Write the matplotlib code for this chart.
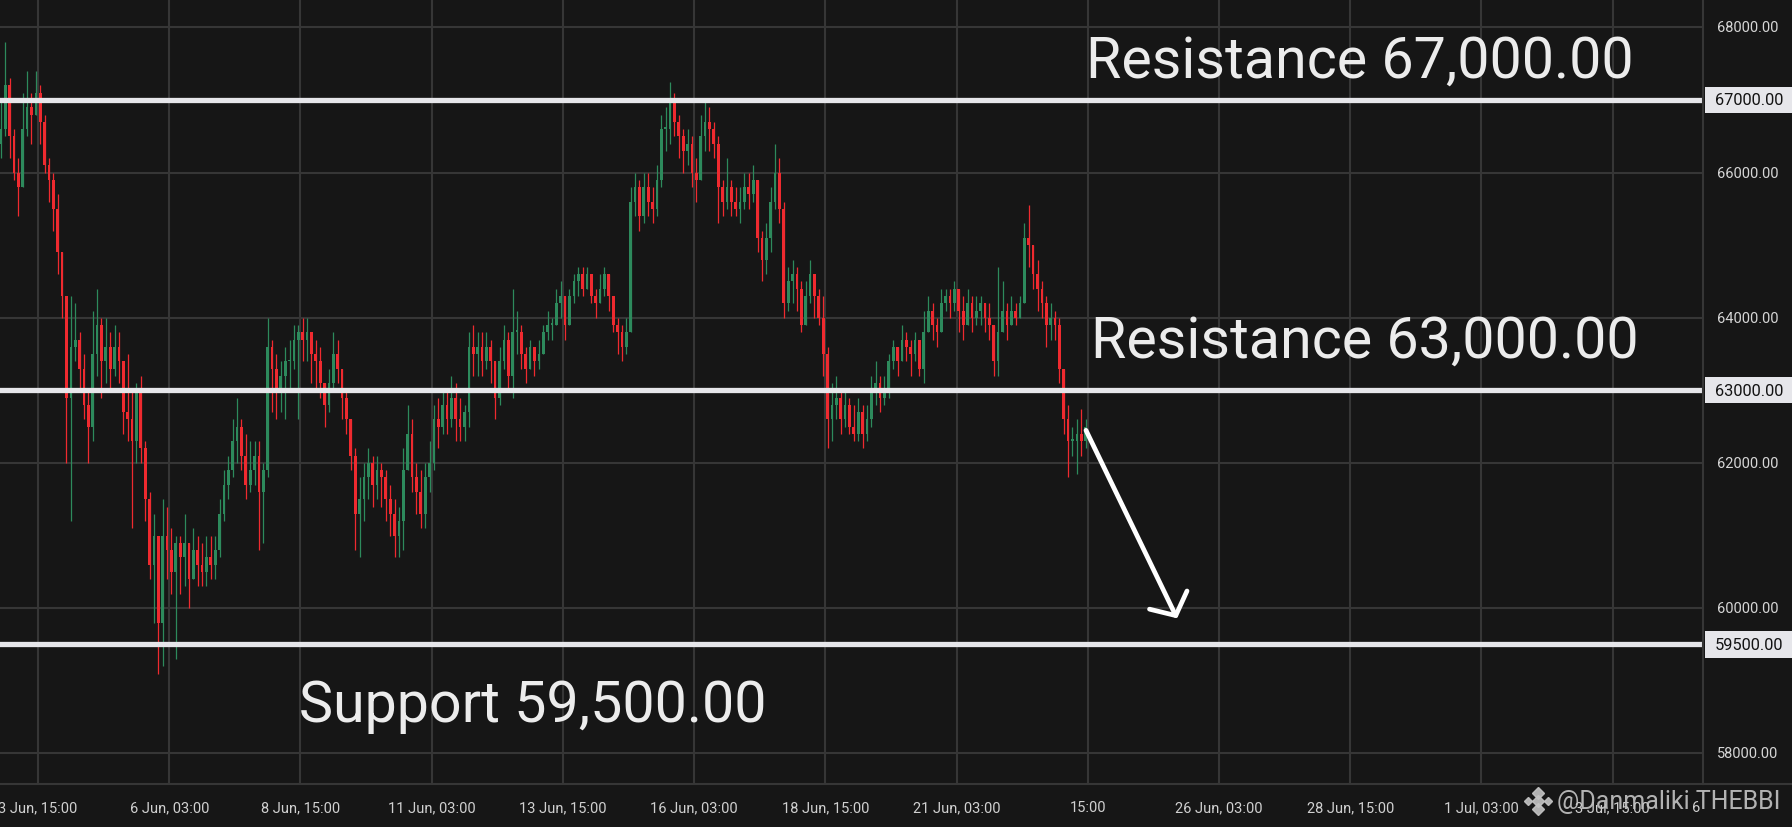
import numpy as np
import pandas as pd
import matplotlib
matplotlib.use("Agg")
import matplotlib.pyplot as plt
import matplotlib.dates as mdates
from matplotlib.patches import Rectangle
from matplotlib.lines import Line2D

plt.rcParams['font.family'] = ['Roboto', 'DejaVu Sans']

# ==========================
# data (2h candles, prices in thousands USD)
# ==========================
first_candle = "2024-06-02 22:00"
open0 = 66.4

close = [
    66.6, 67.2, 66.5, 66.0, 65.8, 66.6, 66.9, 66.8, 67.1, 66.7,
    66.1, 65.9, 65.5, 64.9, 64.3, 62.9, 63.6, 63.7, 63.3, 62.8,
    62.5, 63.5, 63.9, 63.4, 63.6, 63.3, 63.6, 63.4, 62.7, 62.6,
    62.3, 63.0, 62.2, 61.5, 60.6, 61.0, 59.8, 61.0, 60.8, 60.5,
    60.9, 60.7, 60.9, 60.4, 60.8, 60.6, 60.5, 60.7, 60.6, 60.8,
    61.3, 61.7, 61.9, 62.3, 62.5, 62.1, 61.7, 61.9, 62.1, 61.6,
    61.9, 63.6, 63.3, 63.0, 63.2, 63.4, 63.4, 63.7, 63.8, 63.7,
    63.8, 63.5, 63.4, 63.1, 62.8, 63.1, 63.5, 63.3, 62.9, 62.6,
    62.1, 61.3, 61.5, 61.8, 62.0, 61.7, 61.9, 61.8, 61.5, 61.3,
    61.0, 61.2, 61.9, 62.4, 61.8, 61.6, 61.3, 61.8, 62.0, 62.6,
    62.5, 62.8, 62.6, 62.9, 62.6, 62.5, 62.7, 63.6, 63.5, 63.6,
    63.4, 63.6, 63.4, 62.9, 63.4, 63.7, 63.2, 63.8, 63.8, 63.5,
    63.3, 63.6, 63.4, 63.5, 63.8, 63.9, 63.9, 64.2, 64.3, 63.9,
    64.3, 64.5, 64.6, 64.4, 64.6, 64.3, 64.2, 64.4, 64.6, 64.3,
    63.9, 63.8, 63.6, 63.8, 65.6, 65.8, 65.4, 65.8, 65.6, 65.5,
    65.9, 66.6, 66.6, 67.0, 66.7, 66.5, 66.3, 66.4, 66.0, 65.9,
    66.5, 66.7, 66.6, 66.4, 65.8, 65.6, 65.8, 65.6, 65.5, 65.6,
    65.8, 65.7, 65.9, 65.1, 64.8, 65.1, 65.6, 66.0, 65.5, 64.2,
    64.5, 64.6, 64.4, 63.9, 64.3, 64.6, 64.3, 64.0, 63.5, 62.6,
    62.8, 62.9, 62.6, 62.8, 62.5, 62.4, 62.7, 62.4, 62.6, 63.0,
    63.1, 62.9, 63.0, 63.4, 63.6, 63.4, 63.7, 63.6, 63.5, 63.7,
    63.3, 63.8, 64.1, 63.9, 63.8, 64.2, 64.3, 64.2, 64.4, 64.1,
    63.9, 64.2, 64.0, 64.1, 64.2, 64.0, 63.9, 63.4, 63.8, 64.1,
    63.9, 64.1, 64.0, 64.2, 65.1, 65.0, 64.6, 64.4, 64.2, 63.9,
    64.0, 63.9, 63.3, 62.6, 62.3, 62.3, 62.4, 62.3, 62.5,
]

high = [
    67.0, 67.8, 67.3, 66.6, 66.2, 67.1, 67.4, 67.1, 67.4, 67.2,
    66.8, 66.2, 66.0, 65.7, 64.9, 63.9, 64.3, 64.2, 63.8, 63.5,
    63.0, 64.1, 64.4, 64.0, 64.0, 63.8, 63.9, 63.8, 63.4, 63.5,
    63.0, 63.1, 63.2, 62.3, 61.6, 61.3, 60.8, 61.5, 61.4, 61.1,
    61.0, 61.0, 61.3, 60.9, 61.1, 61.0, 60.9, 61.0, 61.0, 61.0,
    61.5, 61.9, 62.1, 62.6, 62.9, 62.6, 62.4, 62.3, 62.3, 62.3,
    62.0, 64.0, 63.7, 63.5, 63.4, 63.6, 63.7, 63.9, 63.9, 64.0,
    64.0, 63.8, 63.7, 63.6, 63.0, 63.3, 63.8, 63.7, 63.3, 63.0,
    62.6, 62.2, 61.8, 62.0, 62.2, 62.1, 62.1, 62.0, 61.9, 61.7,
    61.5, 61.4, 62.2, 62.8, 62.6, 62.0, 61.9, 62.0, 62.3, 62.8,
    62.9, 63.0, 63.0, 63.2, 63.1, 62.9, 62.8, 63.8, 63.9, 63.8,
    63.8, 63.8, 63.7, 63.4, 63.6, 63.9, 63.8, 64.4, 64.1, 63.9,
    63.6, 63.7, 63.6, 63.7, 63.9, 64.1, 64.0, 64.4, 64.5, 64.3,
    64.4, 64.6, 64.7, 64.7, 64.7, 64.6, 64.4, 64.6, 64.7, 64.6,
    64.3, 64.0, 63.9, 64.0, 65.8, 66.0, 65.9, 66.0, 66.0, 65.8,
    66.1, 66.8, 66.9, 67.25, 67.1, 66.8, 66.6, 66.6, 66.5, 66.2,
    66.8, 67.0, 66.9, 66.7, 66.5, 65.9, 66.2, 65.9, 65.8, 65.8,
    66.0, 66.0, 66.1, 65.6, 65.2, 65.3, 65.8, 66.4, 66.2, 65.6,
    64.7, 64.8, 64.7, 64.5, 64.5, 64.8, 64.6, 64.4, 64.3, 63.6,
    63.1, 63.2, 63.0, 63.0, 62.9, 62.8, 62.9, 62.8, 62.8, 63.2,
    63.4, 63.2, 63.2, 63.5, 63.7, 63.6, 63.9, 63.8, 63.7, 63.8,
    63.6, 64.1, 64.3, 64.2, 64.0, 64.4, 64.4, 64.4, 64.5, 64.3,
    64.3, 64.4, 64.3, 64.3, 64.3, 64.2, 64.2, 63.9, 64.7, 64.5,
    64.2, 64.3, 64.2, 64.3, 65.3, 65.55, 65.0, 64.8, 64.5, 64.3,
    64.2, 64.1, 64.0, 63.3, 62.8, 62.5, 62.6, 62.75, 62.6,
]

low = [
    66.2, 66.5, 66.2, 65.9, 65.4, 65.9, 66.5, 66.4, 66.8, 66.4,
    66.0, 65.6, 65.2, 64.6, 64.0, 62.0, 61.2, 63.4, 63.0, 62.6,
    62.0, 62.3, 63.2, 62.9, 63.1, 63.0, 63.2, 63.1, 62.4, 62.3,
    61.1, 62.0, 62.0, 61.2, 60.4, 59.8, 59.1, 59.2, 60.4, 60.2,
    59.3, 60.2, 60.3, 60.0, 60.4, 60.3, 60.3, 60.3, 60.4, 60.4,
    60.7, 61.2, 61.5, 61.8, 62.0, 61.9, 61.5, 61.6, 61.7, 60.8,
    60.9, 61.8, 62.7, 62.6, 62.7, 62.6, 63.0, 63.3, 62.6, 63.4,
    63.4, 63.1, 63.0, 62.9, 62.5, 62.7, 63.0, 63.1, 62.6, 62.4,
    61.9, 60.8, 60.7, 61.2, 61.5, 61.4, 61.5, 61.4, 61.2, 61.0,
    60.7, 60.7, 60.8, 61.9, 61.6, 61.3, 61.1, 61.1, 61.6, 61.9,
    62.2, 62.4, 62.4, 62.5, 62.3, 62.3, 62.3, 62.5, 63.2, 63.2,
    63.2, 63.3, 63.1, 62.6, 62.8, 63.3, 63.0, 62.9, 63.5, 63.3,
    63.1, 63.3, 63.2, 63.3, 63.5, 63.7, 63.7, 63.9, 64.0, 63.7,
    64.0, 64.2, 64.3, 64.3, 64.4, 64.2, 64.0, 64.2, 64.3, 64.1,
    63.8, 63.5, 63.4, 63.5, 63.8, 65.4, 65.2, 65.3, 65.4, 65.3,
    65.4, 65.8, 66.3, 66.4, 66.5, 66.2, 66.0, 66.1, 65.8, 65.6,
    65.9, 66.3, 66.3, 66.2, 65.3, 65.4, 65.5, 65.4, 65.4, 65.3,
    65.5, 65.5, 65.6, 64.9, 64.5, 64.6, 64.9, 65.5, 65.3, 64.0,
    64.1, 64.2, 64.1, 63.8, 63.9, 64.2, 64.0, 63.9, 63.2, 62.2,
    62.3, 62.6, 62.4, 62.5, 62.4, 62.3, 62.3, 62.2, 62.3, 62.5,
    62.8, 62.7, 62.8, 62.9, 63.3, 63.2, 63.4, 63.4, 63.2, 63.4,
    63.2, 63.1, 63.8, 63.7, 63.6, 63.9, 64.1, 64.0, 64.1, 63.8,
    63.7, 63.9, 63.8, 63.9, 63.9, 63.8, 63.7, 63.2, 63.2, 63.8,
    63.7, 63.9, 63.9, 64.0, 64.2, 64.7, 64.4, 64.1, 64.0, 63.6,
    63.7, 63.7, 63.1, 62.4, 61.8, 62.1, 61.85, 62.1, 62.2,
]

levels = [67000, 63000, 59500]
level_texts = ["Resistance 67,000.00", "Resistance 63,000.00", "Support 59,500.00"]
price_ticks = [58000, 60000, 62000, 64000, 66000, 68000]

tick_start = "2024-06-03 15:00"
tick_labels = ["3 Jun, 15:00", "6 Jun, 03:00", "8 Jun, 15:00", "11 Jun, 03:00",
               "13 Jun, 15:00", "16 Jun, 03:00", "18 Jun, 15:00", "21 Jun, 03:00",
               "15:00", "26 Jun, 03:00", "28 Jun, 15:00", "1 Jul, 03:00", "3 Jul, 15:00"]

arrow_start = ("2024-06-23 14:10", 62450)
arrow_end = ("2024-06-25 07:50", 59860)

# ==========================
# prepare
# ==========================
c = np.array(close) * 1000
h = np.array(high) * 1000
l = np.array(low) * 1000
o = np.concatenate([[open0 * 1000], c[:-1]])
h = np.maximum(h, np.maximum(o, c))
l = np.minimum(l, np.minimum(o, c))
times = pd.date_range(first_candle, periods=len(c), freq="2h")
x = mdates.date2num(times)

BG = "#161616"
GRID = "#363636"
RED = "#ef2a2f"
GREEN = "#2d8a5c"
LEVEL = "#e6e6ea"

W, H = 1792, 828
fig = plt.figure(figsize=(W / 100, H / 100), dpi=100, facecolor=BG)
ax = fig.add_axes([0, 43 / H, 1703 / W, 785 / H], facecolor=BG)
ax2 = fig.add_axes([1703 / W, 43 / H, 89 / W, 785 / H], facecolor=BG)

ylim = (57578, 68391)
xlim = (mdates.date2num(pd.Timestamp("2024-06-02 21:36")),
        mdates.date2num(pd.Timestamp("2024-07-05 08:18")))

# grid
xt = mdates.date2num(pd.date_range(tick_start, periods=len(tick_labels), freq="60h"))
for v in price_ticks:
    ax.axhline(v, color=GRID, lw=1.5, zorder=0)
for v in xt:
    ax.axvline(v, color=GRID, lw=1.5, zorder=0)

# candles
up = c >= o
cols = np.where(up, GREEN, RED)
bw = 0.62 / 12
ax.vlines(x, l, h, colors=cols, lw=0.9, zorder=2)
body_lo = np.minimum(o, c)
body_h = np.maximum(np.abs(c - o), 25)
ax.bar(x, body_h, bottom=body_lo, width=bw, color=cols, linewidth=0, zorder=3)

# levels
for lv in levels:
    ax.axhline(lv, color=LEVEL, lw=3.8, zorder=4)

txt_kw = dict(color="#ececec", fontsize=41.3, va="baseline", ha="left", zorder=6)
ax.text(1086 / 1703, (785 - 78) / 785, level_texts[0], transform=ax.transAxes, **txt_kw)
ax.text(1091 / 1703, (785 - 358) / 785, level_texts[1], transform=ax.transAxes, **txt_kw)
ax.text(299 / 1703, (785 - 722) / 785, level_texts[2], transform=ax.transAxes, **txt_kw)

# arrow
ax.annotate("", xy=(mdates.date2num(pd.Timestamp(arrow_end[0])), arrow_end[1]),
            xytext=(mdates.date2num(pd.Timestamp(arrow_start[0])), arrow_start[1]),
            arrowprops=dict(arrowstyle="->,head_length=0.62,head_width=0.75",
                            color="white", lw=3.4, mutation_scale=20,
                            shrinkA=0, shrinkB=0, capstyle="round"),
            zorder=7)

ax.set_xlim(xlim)
ax.set_ylim(ylim)
ax.set_xticks(xt)
ax.set_xticklabels(tick_labels)
ax.tick_params(axis="x", length=0, pad=11.5, labelsize=10.5, labelcolor="#d0d0d0")
ax.set_yticks([])
for s in ["top", "left", "right"]:
    ax.spines[s].set_visible(False)
ax.spines["bottom"].set_color(GRID)
ax.spines["bottom"].set_linewidth(1.5)

# right price scale
ax2.set_ylim(ylim)
ax2.set_xlim(0, 1)
ax2.set_xticks([])
ax2.set_yticks([])
for s in ["top", "right"]:
    ax2.spines[s].set_visible(False)
for s in ["left", "bottom"]:
    ax2.spines[s].set_color(GRID)
    ax2.spines[s].set_linewidth(1.5)
for v in price_ticks:
    ax2.text(0.5, v, f"{v:.2f}", ha="center", va="center", fontsize=10.5, color="#d6d6d6")
for lv in levels:
    ax2.add_patch(Rectangle((0.02, lv - 180), 0.98, 360, facecolor=LEVEL, edgecolor="none"))
    ax2.text(0.52, lv, f"{lv:.2f}", ha="center", va="center", fontsize=11.8, color="#131313")

# cut-off last time label
fig.text(1692 / W, (828 - 808) / H, "6", ha="left", va="center", fontsize=10.5, color="#d0d0d0")

# watermark
fig.text(1557 / W, (828 - 802) / H, "@Danmaliki THEBBI", ha="left", va="center",
         fontsize=18, color="#c4c4c4", alpha=0.9)
lx, ly = 1538 / W, (828 - 802) / H
for dx, dy, ms in [(0, 0, 6), (-10, 0, 4), (10, 0, 4), (0, 8, 6), (0, -8, 6)]:
    fig.add_artist(Line2D([lx + dx / W], [ly + dy / H], marker="D", ms=ms,
                          color="#c4c4c4", alpha=0.9, transform=fig.transFigure))

fig.savefig("out.png", dpi=100, facecolor=BG)
